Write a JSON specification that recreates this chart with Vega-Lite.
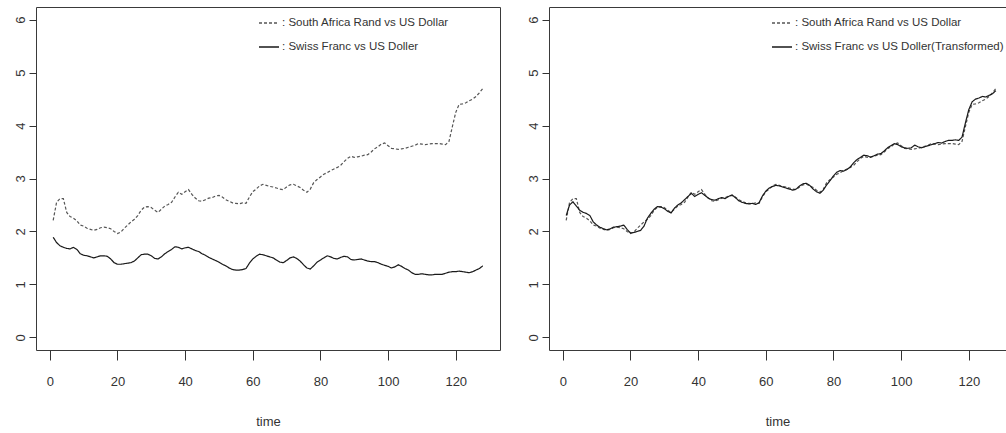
{
  "$schema": "https://vega.github.io/schema/vega-lite/v6.json",
  "background": "white",
  "padding": {"left": 13, "top": 6, "right": 0, "bottom": 0},
  "config": {
    "view": {"stroke": "#3a3a3a", "strokeWidth": 1},
    "concat": {"spacing": 25},
    "font": "Liberation Sans",
    "axis": {
      "domain": false, "grid": false,
      "tickColor": "#333", "tickWidth": 1,
      "labelColor": "#333", "labelFont": "Liberation Sans", "labelFontSize": 13,
      "titleFont": "Liberation Sans", "titleFontSize": 13, "titleFontWeight": "normal", "titleColor": "#333"
    },
    "legend": {
      "orient": "none", "legendX": 222, "legendY": 5, "padding": 0,
      "symbolType": "stroke", "symbolSize": 400, "symbolStrokeWidth": 1.3,
      "rowPadding": 7, "labelOffset": 2, "labelLimit": 0,
      "labelFont": "Liberation Sans", "labelFontSize": 11.5, "labelColor": "#333"
    }
  },
  "datasets": {
    "fx": [
      {"t":1,"r":2.21,"s":1.89,"tr":2.30},{"t":2,"r":2.55,"s":1.79,"tr":2.50},{"t":3,"r":2.62,"s":1.73,"tr":2.56},{"t":4,"r":2.62,"s":1.70,"tr":2.48},
      {"t":5,"r":2.36,"s":1.68,"tr":2.40},{"t":6,"r":2.28,"s":1.67,"tr":2.36},{"t":7,"r":2.25,"s":1.70,"tr":2.34},{"t":8,"r":2.20,"s":1.66,"tr":2.30},
      {"t":9,"r":2.12,"s":1.58,"tr":2.18},{"t":10,"r":2.10,"s":1.55,"tr":2.12},{"t":11,"r":2.06,"s":1.54,"tr":2.08},{"t":12,"r":2.04,"s":1.52,"tr":2.05},
      {"t":13,"r":2.02,"s":1.50,"tr":2.03},{"t":14,"r":2.04,"s":1.52,"tr":2.05},{"t":15,"r":2.07,"s":1.54,"tr":2.08},{"t":16,"r":2.08,"s":1.54,"tr":2.09},
      {"t":17,"r":2.07,"s":1.53,"tr":2.10},{"t":18,"r":2.05,"s":1.48,"tr":2.12},{"t":19,"r":2.00,"s":1.41,"tr":2.04},{"t":20,"r":1.96,"s":1.38,"tr":1.97},
      {"t":21,"r":1.99,"s":1.38,"tr":1.98},{"t":22,"r":2.06,"s":1.39,"tr":2.00},{"t":23,"r":2.12,"s":1.40,"tr":2.02},{"t":24,"r":2.18,"s":1.41,"tr":2.10},
      {"t":25,"r":2.23,"s":1.44,"tr":2.25},{"t":26,"r":2.30,"s":1.50,"tr":2.34},{"t":27,"r":2.40,"s":1.56,"tr":2.42},{"t":28,"r":2.46,"s":1.57,"tr":2.47},
      {"t":29,"r":2.47,"s":1.57,"tr":2.46},{"t":30,"r":2.45,"s":1.54,"tr":2.43},{"t":31,"r":2.40,"s":1.49,"tr":2.38},{"t":32,"r":2.36,"s":1.48,"tr":2.35},
      {"t":33,"r":2.42,"s":1.52,"tr":2.44},{"t":34,"r":2.48,"s":1.58,"tr":2.50},{"t":35,"r":2.51,"s":1.62,"tr":2.54},{"t":36,"r":2.55,"s":1.66,"tr":2.60},
      {"t":37,"r":2.65,"s":1.71,"tr":2.66},{"t":38,"r":2.74,"s":1.70,"tr":2.72},{"t":39,"r":2.70,"s":1.67,"tr":2.66},{"t":40,"r":2.75,"s":1.69,"tr":2.70},
      {"t":41,"r":2.79,"s":1.70,"tr":2.73},{"t":42,"r":2.70,"s":1.67,"tr":2.68},{"t":43,"r":2.63,"s":1.64,"tr":2.63},{"t":44,"r":2.58,"s":1.62,"tr":2.60},
      {"t":45,"r":2.57,"s":1.58,"tr":2.59},{"t":46,"r":2.60,"s":1.55,"tr":2.62},{"t":47,"r":2.63,"s":1.51,"tr":2.64},{"t":48,"r":2.64,"s":1.48,"tr":2.62},
      {"t":49,"r":2.67,"s":1.45,"tr":2.66},{"t":50,"r":2.68,"s":1.42,"tr":2.69},{"t":51,"r":2.65,"s":1.38,"tr":2.64},{"t":52,"r":2.60,"s":1.35,"tr":2.58},
      {"t":53,"r":2.57,"s":1.31,"tr":2.55},{"t":54,"r":2.54,"s":1.28,"tr":2.53},{"t":55,"r":2.53,"s":1.27,"tr":2.52},{"t":56,"r":2.52,"s":1.27,"tr":2.53},
      {"t":57,"r":2.54,"s":1.28,"tr":2.51},{"t":58,"r":2.53,"s":1.30,"tr":2.54},{"t":59,"r":2.65,"s":1.40,"tr":2.67},{"t":60,"r":2.75,"s":1.48,"tr":2.76},
      {"t":61,"r":2.80,"s":1.53,"tr":2.82},{"t":62,"r":2.86,"s":1.57,"tr":2.85},{"t":63,"r":2.89,"s":1.56,"tr":2.87},{"t":64,"r":2.87,"s":1.54,"tr":2.86},
      {"t":65,"r":2.85,"s":1.52,"tr":2.84},{"t":66,"r":2.84,"s":1.50,"tr":2.82},{"t":67,"r":2.82,"s":1.46,"tr":2.80},{"t":68,"r":2.80,"s":1.42,"tr":2.78},
      {"t":69,"r":2.79,"s":1.41,"tr":2.80},{"t":70,"r":2.84,"s":1.45,"tr":2.86},{"t":71,"r":2.88,"s":1.50,"tr":2.90},{"t":72,"r":2.89,"s":1.52,"tr":2.91},
      {"t":73,"r":2.86,"s":1.49,"tr":2.87},{"t":74,"r":2.83,"s":1.44,"tr":2.80},{"t":75,"r":2.78,"s":1.37,"tr":2.75},{"t":76,"r":2.74,"s":1.31,"tr":2.72},
      {"t":77,"r":2.80,"s":1.29,"tr":2.78},{"t":78,"r":2.92,"s":1.35,"tr":2.88},{"t":79,"r":2.98,"s":1.42,"tr":2.96},{"t":80,"r":3.03,"s":1.46,"tr":3.05},
      {"t":81,"r":3.08,"s":1.50,"tr":3.12},{"t":82,"r":3.11,"s":1.54,"tr":3.15},{"t":83,"r":3.15,"s":1.52,"tr":3.14},{"t":84,"r":3.18,"s":1.49,"tr":3.17},
      {"t":85,"r":3.21,"s":1.48,"tr":3.22},{"t":86,"r":3.25,"s":1.51,"tr":3.30},{"t":87,"r":3.32,"s":1.53,"tr":3.36},{"t":88,"r":3.38,"s":1.52,"tr":3.40},
      {"t":89,"r":3.42,"s":1.47,"tr":3.44},{"t":90,"r":3.40,"s":1.46,"tr":3.43},{"t":91,"r":3.41,"s":1.47,"tr":3.40},{"t":92,"r":3.42,"s":1.48,"tr":3.43},
      {"t":93,"r":3.44,"s":1.46,"tr":3.46},{"t":94,"r":3.45,"s":1.44,"tr":3.47},{"t":95,"r":3.50,"s":1.43,"tr":3.52},{"t":96,"r":3.56,"s":1.43,"tr":3.58},
      {"t":97,"r":3.60,"s":1.41,"tr":3.62},{"t":98,"r":3.65,"s":1.38,"tr":3.66},{"t":99,"r":3.67,"s":1.36,"tr":3.64},{"t":100,"r":3.62,"s":1.34,"tr":3.60},
      {"t":101,"r":3.57,"s":1.31,"tr":3.58},{"t":102,"r":3.56,"s":1.33,"tr":3.57},{"t":103,"r":3.55,"s":1.37,"tr":3.58},{"t":104,"r":3.56,"s":1.34,"tr":3.63},
      {"t":105,"r":3.57,"s":1.30,"tr":3.60},{"t":106,"r":3.59,"s":1.27,"tr":3.58},{"t":107,"r":3.61,"s":1.22,"tr":3.60},{"t":108,"r":3.63,"s":1.19,"tr":3.62},
      {"t":109,"r":3.66,"s":1.19,"tr":3.64},{"t":110,"r":3.65,"s":1.20,"tr":3.66},{"t":111,"r":3.64,"s":1.19,"tr":3.68},{"t":112,"r":3.65,"s":1.18,"tr":3.67},
      {"t":113,"r":3.66,"s":1.18,"tr":3.70},{"t":114,"r":3.66,"s":1.19,"tr":3.72},{"t":115,"r":3.66,"s":1.19,"tr":3.72},{"t":116,"r":3.65,"s":1.19,"tr":3.73},
      {"t":117,"r":3.64,"s":1.21,"tr":3.72},{"t":118,"r":3.70,"s":1.23,"tr":3.78},{"t":119,"r":3.98,"s":1.24,"tr":4.05},{"t":120,"r":4.25,"s":1.24,"tr":4.30},
      {"t":121,"r":4.40,"s":1.25,"tr":4.45},{"t":122,"r":4.41,"s":1.24,"tr":4.50},{"t":123,"r":4.43,"s":1.23,"tr":4.52},{"t":124,"r":4.47,"s":1.22,"tr":4.55},
      {"t":125,"r":4.50,"s":1.24,"tr":4.54},{"t":126,"r":4.55,"s":1.27,"tr":4.57},{"t":127,"r":4.62,"s":1.30,"tr":4.60},{"t":128,"r":4.70,"s":1.35,"tr":4.66}
    ]
  },
  "resolve": {
    "scale": {"color": "independent", "strokeDash": "independent"},
    "legend": {"color": "independent", "strokeDash": "independent"}
  },
  "hconcat": [
    {
      "width": 464, "height": 343,
      "data": {"name": "fx"},
      "transform": [{"fold": ["r", "s"], "as": ["series", "v"]}],
      "mark": {"type": "line", "strokeWidth": 1.2, "clip": true},
      "encoding": {
        "x": {"field": "t", "type": "quantitative",
          "scale": {"domain": [-4.08, 133.08], "nice": false, "zero": false},
          "axis": {"values": [0, 20, 40, 60, 80, 100, 120], "tickSize": 10, "labelPadding": 15, "labelFlush": false, "title": "time", "titlePadding": 27}},
        "y": {"field": "v", "type": "quantitative",
          "scale": {"domain": [-0.24, 6.24], "nice": false, "zero": false},
          "axis": {"values": [0, 1, 2, 3, 4, 5, 6], "tickSize": 7, "labelPadding": 5, "labelAngle": 270, "labelAlign": "center", "labelBaseline": "alphabetic", "labelFlush": false, "title": null}},
        "color": {"field": "series", "type": "nominal",
          "scale": {"domain": ["r", "s"], "range": ["#555555", "#1a1a1a"]},
          "legend": {"title": null, "labelExpr": "datum.label == 'r' ? ': South Africa Rand vs US Dollar' : ': Swiss Franc vs US Doller'"}},
        "strokeDash": {"field": "series", "type": "nominal",
          "scale": {"domain": ["r", "s"], "range": [[3, 2], [1, 0]]},
          "legend": {"title": null, "labelExpr": "datum.label == 'r' ? ': South Africa Rand vs US Dollar' : ': Swiss Franc vs US Doller'"}}
      }
    },
    {
      "width": 457, "height": 343,
      "data": {"name": "fx"},
      "transform": [{"fold": ["r", "tr"], "as": ["series", "v"]}],
      "mark": {"type": "line", "strokeWidth": 1.2, "clip": true},
      "encoding": {
        "x": {"field": "t", "type": "quantitative",
          "scale": {"domain": [-4.08, 131.0], "nice": false, "zero": false},
          "axis": {"values": [0, 20, 40, 60, 80, 100, 120], "tickSize": 10, "labelPadding": 15, "labelFlush": false, "title": "time", "titlePadding": 27}},
        "y": {"field": "v", "type": "quantitative",
          "scale": {"domain": [-0.24, 6.24], "nice": false, "zero": false},
          "axis": {"values": [0, 1, 2, 3, 4, 5, 6], "tickSize": 7, "labelPadding": 5, "labelAngle": 270, "labelAlign": "center", "labelBaseline": "alphabetic", "labelFlush": false, "title": null}},
        "color": {"field": "series", "type": "nominal",
          "scale": {"domain": ["r", "tr"], "range": ["#555555", "#1a1a1a"]},
          "legend": {"title": null, "labelExpr": "datum.label == 'r' ? ': South Africa Rand vs US Dollar' : ': Swiss Franc vs US Doller(Transformed)'"}},
        "strokeDash": {"field": "series", "type": "nominal",
          "scale": {"domain": ["r", "tr"], "range": [[3, 2], [1, 0]]},
          "legend": {"title": null, "labelExpr": "datum.label == 'r' ? ': South Africa Rand vs US Dollar' : ': Swiss Franc vs US Doller(Transformed)'"}}
      }
    }
  ]
}
